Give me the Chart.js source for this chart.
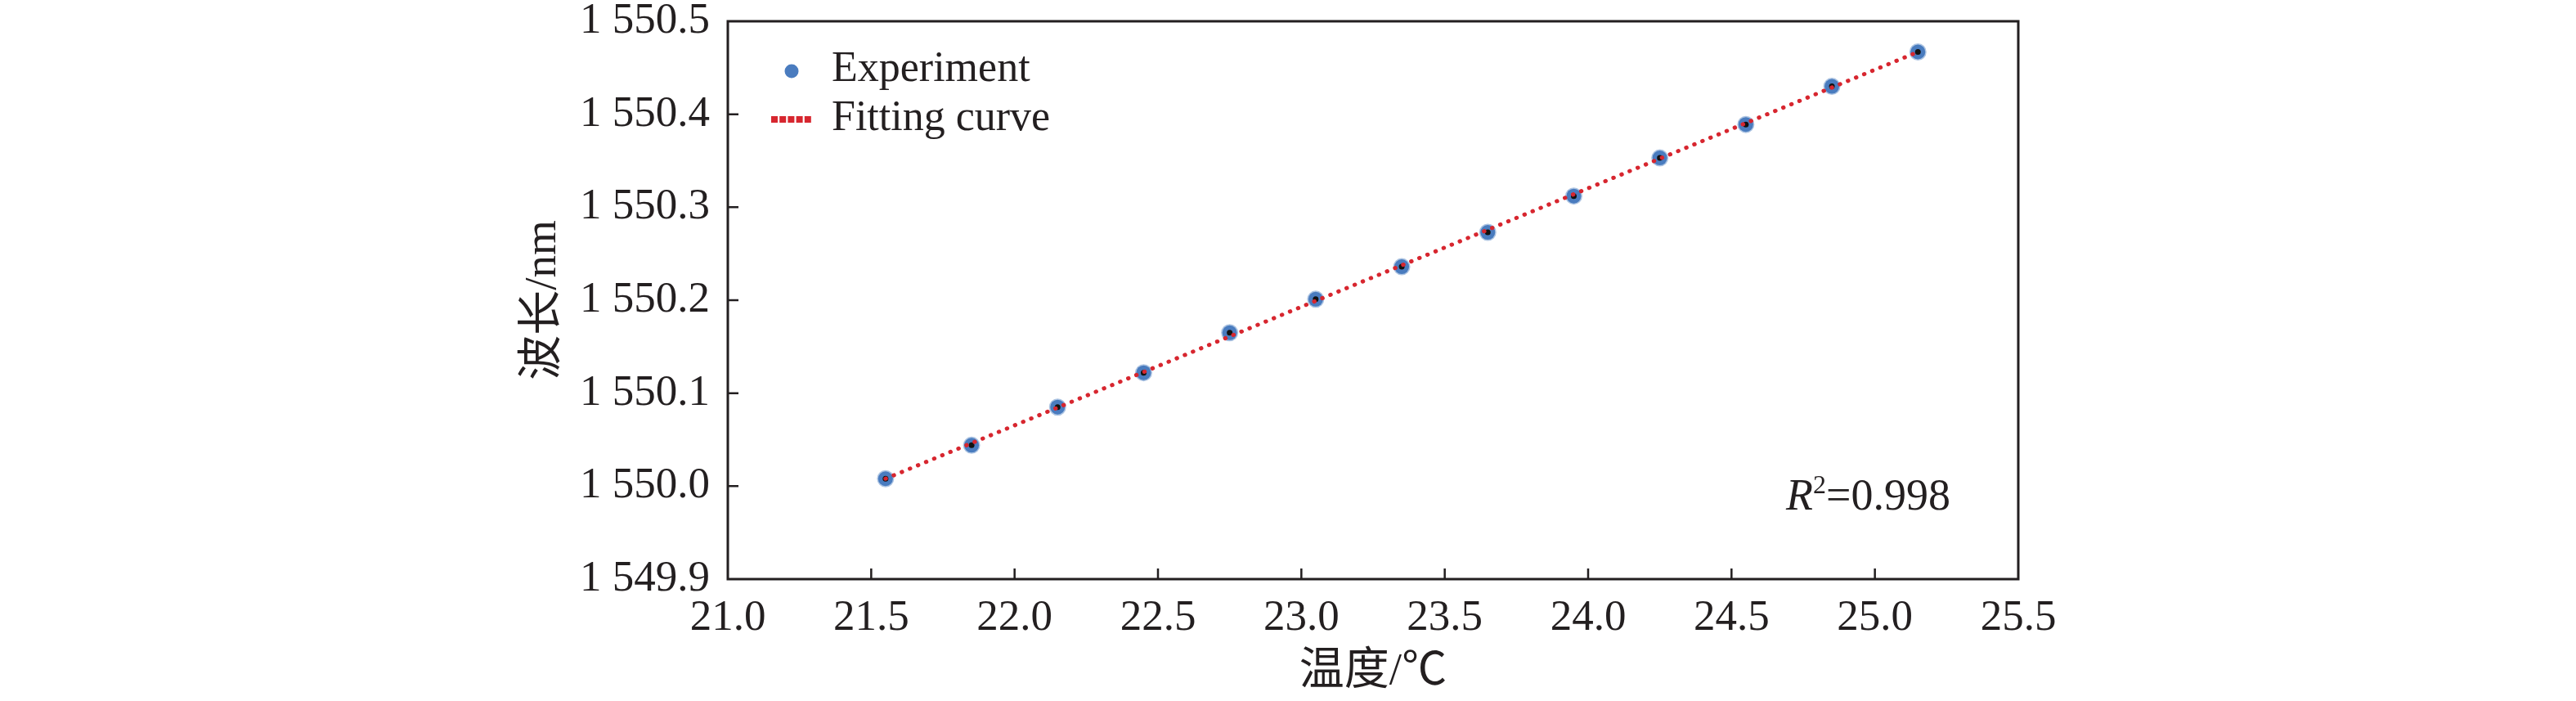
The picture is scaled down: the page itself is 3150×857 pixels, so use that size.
<!DOCTYPE html>
<html>
<head>
<meta charset="utf-8">
<script src="https://cdn.jsdelivr.net/npm/chart.js@4.4.1/dist/chart.umd.min.js"></script>
<style>
  html, body { margin: 0; padding: 0; background: #fff; }
  #wrap { width: 3150px; height: 857px; position: relative; }
</style>
</head>
<body>
<div id="wrap"><canvas id="wl-chart"></canvas></div>
<script>
// ── Data ──────────────────────────────────────────────────────
const tempC = [21.55, 21.85, 22.15, 22.45, 22.75, 23.05, 23.35, 23.65, 23.95, 24.25, 24.55, 24.85, 25.15];
const wavelengthNm = [1550.008, 1550.044, 1550.085, 1550.122, 1550.165, 1550.201, 1550.236,
                      1550.273, 1550.312, 1550.353, 1550.389, 1550.430, 1550.467];
const fitX = [21.55, 25.15];
const fitY = [1550.008, 1550.467];
const xTicks = [21.0, 21.5, 22.0, 22.5, 23.0, 23.5, 24.0, 24.5, 25.0, 25.5];
const yTicks = [1549.9, 1550.0, 1550.1, 1550.2, 1550.3, 1550.4, 1550.5];
const r2Text = '=0.998';

const INK = '#231f20';
const BLUE = '#4a7cbf';
const RED = '#d7262f';
const SERIF = "'Liberation Serif', 'Times New Roman', 'Noto Sans CJK SC', serif";

const expPts = tempC.map((x, i) => ({ x, y: wavelengthNm[i] }));
const fitPts = fitX.map((x, i) => ({ x, y: fitY[i] }));

// frame + inward tick marks, legend inside plot, R² note
const decorPlugin = {
    id: 'decor',
    afterDatasetsDraw(chart) {
        const { ctx, chartArea: a, scales: { x, y } } = chart;
        ctx.save();
        ctx.strokeStyle = INK;
        ctx.lineWidth = 3;
        ctx.strokeRect(a.left, a.top, a.right - a.left, a.bottom - a.top);
        ctx.lineWidth = 2.5;
        ctx.beginPath();
        xTicks.slice(1, -1).forEach(v => {
            const px = x.getPixelForValue(v);
            ctx.moveTo(px, a.bottom); ctx.lineTo(px, a.bottom - 13);
        });
        yTicks.slice(1, -1).forEach(v => {
            const py = y.getPixelForValue(v);
            ctx.moveTo(a.left, py); ctx.lineTo(a.left + 13, py);
        });
        ctx.stroke();

        // legend
        const lx = a.left + 78, ly1 = a.top + 60, ly2 = a.top + 120;
        ctx.fillStyle = BLUE;
        ctx.beginPath(); ctx.arc(lx, ly1 + 1, 8.5, 0, Math.PI * 2); ctx.fill();
        ctx.fillStyle = RED;
        for (let i = 0; i < 5; i++) ctx.fillRect(lx - 25 + i * 10.2, ly2 - 4, 8, 8);
        ctx.fillStyle = INK;
        ctx.font = '52px ' + SERIF;
        ctx.textBaseline = 'middle';
        ctx.textAlign = 'left';
        ctx.fillText('Experiment', lx + 49, ly1 - 1);
        ctx.fillText('Fitting curve', lx + 49, ly2 - 1);

        // R² annotation
        let tx = x.getPixelForValue(24.69);
        const ty = y.getPixelForValue(1549.975);
        ctx.textBaseline = 'alphabetic';
        ctx.font = 'italic 54px ' + SERIF;
        ctx.fillText('R', tx, ty);
        tx += ctx.measureText('R').width;
        ctx.font = '32px ' + SERIF;
        ctx.fillText('2', tx, ty - 20);
        tx += ctx.measureText('2').width;
        ctx.font = '54px ' + SERIF;
        ctx.fillText(r2Text, tx, ty);
        ctx.restore();
    },
};

new Chart(document.getElementById('wl-chart'), {
    type: 'scatter',
    data: {
        datasets: [
            {
                label: 'Fitting curve',
                type: 'line',
                data: fitPts,
                borderColor: RED,
                borderWidth: 5,
                borderDash: [0.5, 10.2],
                borderCapStyle: 'round',
                pointRadius: 0,
                fill: false,
                order: 1,
            },
            {
                label: 'centre',
                data: expPts,
                pointRadius: 3.5,
                pointBackgroundColor: '#111',
                pointBorderWidth: 0,
                order: 2,
            },
            {
                label: 'Experiment',
                data: expPts,
                pointRadius: 9,
                pointBackgroundColor: BLUE,
                pointBorderColor: 'rgba(74,124,191,0.45)',
                pointBorderWidth: 3,
                order: 3,
            },
        ],
    },
    options: {
        responsive: true,
        maintainAspectRatio: false,
        animation: false,
        devicePixelRatio: 1,
        layout: { padding: { left: 632, right: 682, top: 26, bottom: 2 } },
        plugins: { legend: { display: false }, tooltip: { enabled: false } },
        scales: {
            x: {
                type: 'linear',
                min: 21, max: 25.5,
                afterBuildTicks: s => { s.ticks = xTicks.map(v => ({ value: v })); },
                afterFit: s => { s.height = 147; s.paddingLeft = 0; s.paddingRight = 0; },
                grid: { display: false, drawTicks: false },
                border: { display: false },
                ticks: {
                    color: INK, padding: 16, maxRotation: 0, autoSkip: false,
                    font: { family: SERIF, size: 53 },
                    callback: v => v.toFixed(1),
                },
                title: {
                    display: true, text: '温度/℃', color: INK,
                    padding: { top: 0, bottom: 0 },
                    font: { family: SERIF, size: 55, lineHeight: 1.2 },
                },
            },
            y: {
                type: 'linear',
                min: 1549.9, max: 1550.5,
                afterBuildTicks: s => { s.ticks = yTicks.map(v => ({ value: v })); },
                afterFit: s => { s.width = 258; s.paddingTop = 0; s.paddingBottom = 0; },
                grid: { display: false, drawTicks: false },
                border: { display: false },
                ticks: {
                    color: INK, padding: 22, autoSkip: false,
                    font: { family: SERIF, size: 53 },
                    callback: v => {
                        const s = v.toFixed(1);
                        return s.slice(0, 1) + ' ' + s.slice(1);
                    },
                },
                title: {
                    display: true, text: '波长/nm', color: INK,
                    padding: { top: 0, bottom: 0 },
                    font: { family: SERIF, size: 55, lineHeight: 1.2 },
                },
            },
        },
    },
    plugins: [decorPlugin],
});
</script>
</body>
</html>
